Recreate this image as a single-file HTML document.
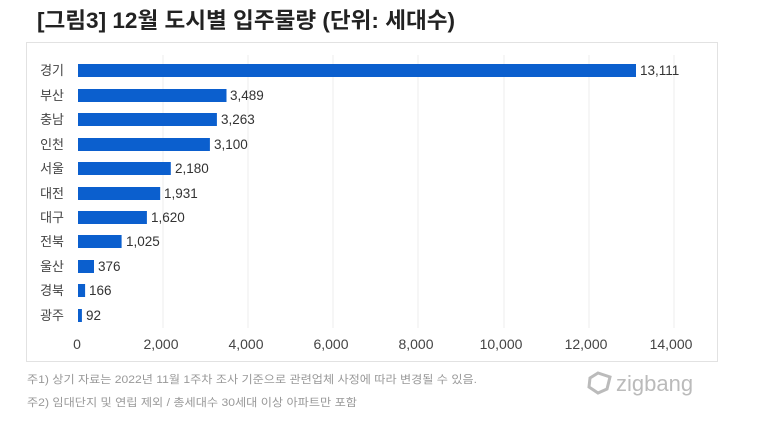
<!DOCTYPE html>
<html><head><meta charset="utf-8"><style>
body{margin:0;background:#fff;width:780px;height:441px;overflow:hidden;font-family:"Liberation Sans","Noto Sans CJK KR",sans-serif;}
</style></head><body>
<svg width="780" height="441" xmlns="http://www.w3.org/2000/svg" font-family="'Liberation Sans','Noto Sans CJK KR',sans-serif">
<text x="37" y="28" font-size="22" font-weight="bold" fill="#222" textLength="418" lengthAdjust="spacingAndGlyphs">[그림3] 12월 도시별 입주물량 (단위: 세대수)</text>
<rect x="26.5" y="42.5" width="691" height="319" fill="#fff" stroke="#e2e2e2"/>
<g stroke="#ececec">
<line x1="163" y1="55" x2="163" y2="328"/><line x1="248" y1="55" x2="248" y2="328"/><line x1="333" y1="55" x2="333" y2="328"/><line x1="418" y1="55" x2="418" y2="328"/><line x1="504" y1="55" x2="504" y2="328"/><line x1="589" y1="55" x2="589" y2="328"/><line x1="674" y1="55" x2="674" y2="328"/>
</g>
<g fill="#0b5fce">
<rect x="78" y="64" width="558" height="13"/>
<rect x="78" y="89" width="148.5" height="13"/>
<rect x="78" y="113" width="138.9" height="13"/>
<rect x="78" y="138" width="131.9" height="13"/>
<rect x="78" y="162" width="92.8" height="13"/>
<rect x="78" y="187" width="82.2" height="13"/>
<rect x="78" y="211" width="68.9" height="13"/>
<rect x="78" y="235" width="43.6" height="13"/>
<rect x="78" y="260" width="16" height="13"/>
<rect x="78" y="284" width="7.1" height="13"/>
<rect x="78" y="309" width="3.9" height="13"/>
</g>
<g font-size="13" fill="#444" text-anchor="end">
<text x="64" y="75">경기</text><text x="64" y="100">부산</text><text x="64" y="124">충남</text><text x="64" y="149">인천</text><text x="64" y="173">서울</text><text x="64" y="198">대전</text><text x="64" y="222">대구</text><text x="64" y="246">전북</text><text x="64" y="271">울산</text><text x="64" y="295">경북</text><text x="64" y="320">광주</text>
</g>
<g font-size="13.5" fill="#333">
<text x="640" y="75">13,111</text><text x="230" y="100">3,489</text><text x="221" y="124">3,263</text><text x="214" y="149">3,100</text><text x="175" y="173">2,180</text><text x="164" y="198">1,931</text><text x="151" y="222">1,620</text><text x="126" y="246">1,025</text><text x="98" y="271">376</text><text x="89" y="295">166</text><text x="86" y="320">92</text>
</g>
<g font-size="14" fill="#444" text-anchor="middle">
<text x="77" y="349">0</text><text x="161" y="349">2,000</text><text x="246" y="349">4,000</text><text x="331" y="349">6,000</text><text x="416" y="349">8,000</text><text x="501" y="349">10,000</text><text x="586" y="349">12,000</text><text x="671" y="349">14,000</text>
</g>
<g font-size="11" fill="#999">
<text x="27" y="383" textLength="450" lengthAdjust="spacingAndGlyphs">주1) 상기 자료는 2022년 11월 1주차 조사 기준으로 관련업체 사정에 따라 변경될 수 있음.</text>
<text x="27" y="406" textLength="330" lengthAdjust="spacingAndGlyphs">주2) 임대단지 및 연립 제외 / 총세대수 30세대 이상 아파트만 포함</text>
</g>
<path d="M590 378 l8 -5 l12 4 l-3 12 l-9 4 l-9 -6z" fill="none" stroke="#bbb" stroke-width="3"/>
<text x="616" y="391" font-size="22" fill="#bbb">zigbang</text>
</svg>
</body></html>
